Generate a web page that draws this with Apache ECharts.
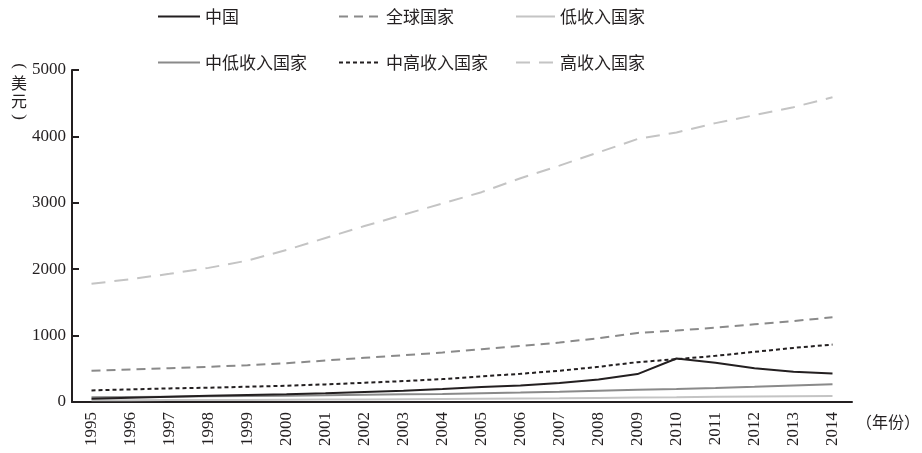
<!DOCTYPE html>
<html><head><meta charset="utf-8">
<script src="https://cdn.jsdelivr.net/npm/echarts@6/dist/echarts.min.js"></script>
<style>html,body{margin:0;padding:0;background:#fff}#c{width:922px;height:453px}</style>
</head><body><div id="c"></div>
<script>
const years = ['1995','1996','1997','1998','1999','2000','2001','2002','2003','2004','2005','2006','2007','2008','2009','2010','2011','2012','2013','2014'];
const china      = [50, 65, 80, 95, 105, 115, 130, 150, 170, 195, 225, 250, 285, 340, 420, 655, 590, 510, 455, 430];
const world      = [470, 490, 510, 530, 555, 585, 625, 665, 705, 745, 795, 845, 895, 960, 1040, 1075, 1120, 1170, 1220, 1275];
const lowInc     = [25, 27, 29, 30, 32, 34, 36, 38, 41, 44, 48, 52, 56, 62, 68, 72, 78, 82, 86, 90];
const lowMidInc  = [70, 75, 80, 85, 90, 95, 100, 108, 115, 122, 132, 142, 155, 170, 185, 195, 210, 228, 248, 268];
const upMidInc   = [175, 190, 205, 215, 230, 245, 265, 290, 315, 345, 385, 425, 470, 530, 600, 645, 695, 755, 815, 865];
const highInc    = [1780, 1850, 1930, 2020, 2130, 2290, 2470, 2650, 2820, 2990, 3160, 3370, 3560, 3760, 3960, 4060, 4200, 4320, 4440, 4590];
const yTicks = [0, 1000, 2000, 3000, 4000, 5000];

const serif = 'Liberation Serif';
const cjk = 'Noto Sans CJK SC';
const names = ['中国','全球国家','低收入国家','中低收入国家','中高收入国家','高收入国家'];
const styles = [
  {color:'#231f20', type:'solid', width:2},
  {color:'#8a8a8a', type:[9,6], width:2},
  {color:'#c4c4c4', type:'solid', width:2},
  {color:'#8a8a8a', type:'solid', width:2},
  {color:'#231f20', type:[4,3], width:2},
  {color:'#c4c4c4', type:[14,9], width:2}
];
const datas = [china, world, lowInc, lowMidInc, upMidInc, highInc];
const legendPos = [[152,3,42],[333,3,42],[510,3,39],[152,49,42],[333,49,42],[510,49,39]];

const chart = echarts.init(document.getElementById('c'));
chart.setOption({
  animation:false,
  legend: names.map((n,i)=>({
    data:[n], left:legendPos[i][0], top:legendPos[i][1], itemWidth:legendPos[i][2], itemHeight:14, itemGap:10,
    itemStyle:{opacity:0},
    lineStyle:{color:styles[i].color, type:styles[i].type, width:2},
    textStyle:{fontFamily:cjk, fontSize:17, color:'#231f20'}, selectedMode:false
  })),
  grid:{left:72, right:70, top:70, bottom:51, containLabel:false},
  xAxis:{
    type:'category', data:years, boundaryGap:true,
    axisLine:{lineStyle:{color:'#231f20', width:2}},
    axisTick:{inside:true, length:8, alignWithLabel:false, lineStyle:{color:'#231f20', width:2}},
    axisLabel:{rotate:90, fontFamily:serif, fontSize:17, color:'#231f20', margin:10}
  },
  yAxis:{
    type:'value', min:0, max:5000, interval:1000,
    axisLine:{show:true, lineStyle:{color:'#231f20', width:2}},
    axisTick:{show:true, inside:true, length:7, lineStyle:{color:'#231f20', width:2}},
    splitLine:{show:false},
    axisLabel:{fontFamily:serif, fontSize:17, color:'#231f20', margin:6, formatter:(v)=>String(v)}
  },
  graphic:[
    {type:'text', x:19, y:66, rotation:-Math.PI/2, style:{text:'(', fontFamily:serif, fontSize:17, fill:'#231f20', textAlign:'center', textVerticalAlign:'middle'}},
    {type:'text', x:19, y:83, style:{text:'美', fontFamily:cjk, fontSize:16, fill:'#231f20', textAlign:'center', textVerticalAlign:'middle'}},
    {type:'text', x:19, y:101, style:{text:'元', fontFamily:cjk, fontSize:16, fill:'#231f20', textAlign:'center', textVerticalAlign:'middle'}},
    {type:'text', x:19, y:117, rotation:-Math.PI/2, style:{text:')', fontFamily:serif, fontSize:17, fill:'#231f20', textAlign:'center', textVerticalAlign:'middle'}},
    {type:'text', left:856, top:414, style:{text:'（年份）', fontFamily:cjk, fontSize:16, fill:'#231f20'}}
  ],
  series: names.map((n,i)=>({
    name:n, type:'line', data:datas[i], symbol:'none', smooth:false, z: i===0?10:2,
    lineStyle:{color:styles[i].color, type:styles[i].type, width:styles[i].width},
    itemStyle:{color:styles[i].color}
  }))
});
</script></body></html>
